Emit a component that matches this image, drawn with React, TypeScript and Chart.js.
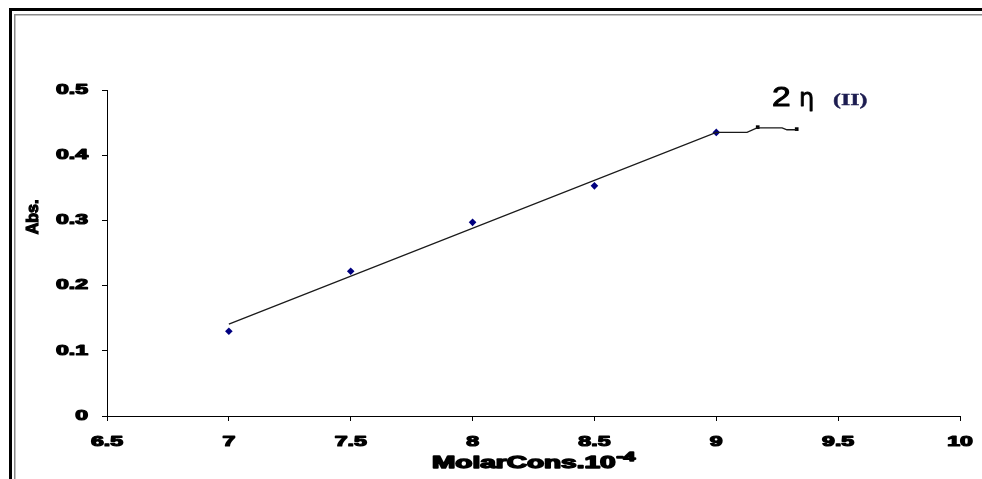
import React, { useEffect, useRef } from "react";
import { Chart, registerables } from "chart.js";

Chart.register(...registerables);

// Measured data (Molar conc. x10^-4 vs absorbance)
const concValues = [7, 7.5, 8, 8.5, 9];
const absValues = [0.13, 0.222, 0.297, 0.353, 0.435];

// plateau points (black squares)
const plateauConc = [9.17, 9.33];
const plateauAbs = [0.443, 0.44];

// drawn trend line
const lineConc = [7, 9, 9.126, 9.167, 9.27, 9.29, 9.33];
const lineAbs = [0.141, 0.435, 0.435, 0.442, 0.442, 0.439, 0.439];

const xTickLabels = ["6.5", "7", "7.5", "8", "8.5", "9", "9.5", "10"];
const xTickValues = [6.5, 7, 7.5, 8, 8.5, 9, 9.5, 10];
const yTickLabels = ["0", "0.1", "0.2", "0.3", "0.4", "0.5"];
const yTickValues = [0, 0.1, 0.2, 0.3, 0.4, 0.5];

const xTitle = "MolarCons.10";
const xTitleSup = "-4";
const yTitle = "Abs.";
const noteMain = "2";
const noteSymbol = "η";
const noteSub = "(II)";

function stretchedText(
  ctx: CanvasRenderingContext2D,
  text: string,
  x: number,
  y: number,
  align: CanvasTextAlign,
  sx: number,
  stroke = 0
) {
  ctx.save();
  ctx.translate(x, y);
  ctx.scale(sx, 1);
  ctx.textAlign = align;
  if (stroke > 0) {
    ctx.lineWidth = stroke;
    ctx.strokeStyle = ctx.fillStyle as string;
    ctx.lineJoin = "round";
    ctx.strokeText(text, 0, 0);
  }
  ctx.fillText(text, 0, 0);
  ctx.restore();
}

const decorPlugin = {
  id: "decor",
  beforeDraw(chart: any) {
    const ctx = chart.ctx as CanvasRenderingContext2D;
    const W = chart.width;
    const H = chart.height;
    ctx.save();
    ctx.fillStyle = "#ffffff";
    ctx.fillRect(0, 0, W, H);
    ctx.fillStyle = "#000000";
    ctx.fillRect(9, 8, 3, H - 8);
    ctx.fillRect(9, 8, W - 9, 3);
    ctx.fillStyle = "#8a8a8a";
    ctx.fillRect(14, 14, 1.5, H - 14);
    ctx.fillRect(14, 14, W - 14, 1.5);
    ctx.restore();
  },
  afterDraw(chart: any) {
    const ctx = chart.ctx as CanvasRenderingContext2D;
    const xs = chart.scales.x;
    const ys = chart.scales.y;
    ctx.save();
    ctx.fillStyle = "#000000";
    ctx.textBaseline = "middle";
    ctx.font = "bold 14px 'Liberation Sans', Arial, sans-serif";
    yTickValues.forEach((v, i) => {
      stretchedText(ctx, yTickLabels[i], 88, ys.getPixelForValue(v), "right", 1.65, 1.2);
    });
    xTickValues.forEach((v, i) => {
      stretchedText(ctx, xTickLabels[i], xs.getPixelForValue(v), 442, "center", 1.65, 1.2);
    });

    // x title
    ctx.textBaseline = "alphabetic";
    ctx.font = "bold 16px 'Liberation Sans', Arial, sans-serif";
    ctx.save();
    ctx.translate(432, 468);
    ctx.scale(1.75, 1);
    ctx.textAlign = "left";
    ctx.lineWidth = 1.4;
    ctx.lineJoin = "round";
    ctx.strokeStyle = "#000";
    ctx.strokeText(xTitle, 0, 0);
    ctx.fillText(xTitle, 0, 0);
    const w = ctx.measureText(xTitle).width;
    ctx.font = "bold 12px 'Liberation Sans', Arial, sans-serif";
    ctx.strokeText(xTitleSup, w + 0.5, -7);
    ctx.fillText(xTitleSup, w + 0.5, -7);
    ctx.restore();

    // y title
    ctx.save();
    ctx.font = "bold 16px 'Liberation Sans', Arial, sans-serif";
    ctx.translate(38, 217);
    ctx.rotate(-Math.PI / 2);
    ctx.textAlign = "center";
    ctx.textBaseline = "alphabetic";
    ctx.lineWidth = 1.2;
    ctx.strokeStyle = "#000";
    ctx.strokeText(yTitle, 0, 0);
    ctx.fillText(yTitle, 0, 0);
    ctx.restore();

    // annotation
    ctx.textBaseline = "alphabetic";
    ctx.font = "28px 'Liberation Sans', Arial, sans-serif";
    stretchedText(ctx, noteMain, 772, 106, "left", 1.2, 1);
    ctx.font = "24px 'DejaVu Sans', sans-serif";
    stretchedText(ctx, noteSymbol, 799, 106, "left", 1.0, 0.8);
    ctx.fillStyle = "#1c1c50";
    ctx.font = "bold 17px 'Liberation Serif', 'Times New Roman', serif";
    stretchedText(ctx, noteSub, 833, 105, "left", 1.4, 0.4);
    ctx.restore();
  },
};

export default function App() {
  const ref = useRef<HTMLCanvasElement | null>(null);
  useEffect(() => {
    if (!ref.current) return;
    const chart = new Chart(ref.current, {
      type: "scatter",
      data: {
        datasets: [
          {
            label: "line",
            data: lineConc.map((x, i) => ({ x, y: lineAbs[i] })),
            showLine: true,
            borderColor: "#1a1a1a",
            borderWidth: 1.3,
            pointRadius: 0,
            fill: false,
          },
          {
            label: "points",
            data: concValues.map((x, i) => ({ x, y: absValues[i] })),
            showLine: false,
            pointStyle: "rectRot",
            pointRadius: 3.8,
            backgroundColor: "#000080",
            borderColor: "#000080",
            borderWidth: 0,
          },
          {
            label: "plateau",
            data: plateauConc.map((x, i) => ({ x, y: plateauAbs[i] })),
            showLine: false,
            pointStyle: "rect",
            pointRadius: 2.6,
            backgroundColor: "#000000",
            borderColor: "#000000",
            borderWidth: 0,
          },
        ],
      },
      options: {
        responsive: false,
        animation: false,
        devicePixelRatio: 1,
        layout: { padding: { left: 0, right: 22, top: 90, bottom: 0 } },
        plugins: { legend: { display: false }, tooltip: { enabled: false }, title: { display: false } },
        scales: {
          x: {
            type: "linear",
            min: 6.5,
            max: 10,
            ticks: { display: false, stepSize: 0.5 },
            grid: { display: true, drawOnChartArea: false, drawTicks: true, tickLength: 5, color: "#000" },
            border: { display: true, color: "#000", width: 1 },
            afterFit: (s: any) => {
              s.height = 63;
            },
          },
          y: {
            type: "linear",
            min: 0,
            max: 0.5,
            ticks: { display: false, stepSize: 0.1 },
            grid: { display: true, drawOnChartArea: false, drawTicks: true, tickLength: 5, color: "#000" },
            border: { display: true, color: "#000", width: 1 },
            afterFit: (s: any) => {
              s.width = 107;
            },
          },
        },
      },
      plugins: [decorPlugin],
    });
    return () => chart.destroy();
  }, []);
  return (
    <div style={{ position: "fixed", left: 0, top: 0, width: 982, height: 479, background: "#fff" }}>
      <canvas ref={ref} width={982} height={479} style={{ display: "block" }} />
    </div>
  );
}
